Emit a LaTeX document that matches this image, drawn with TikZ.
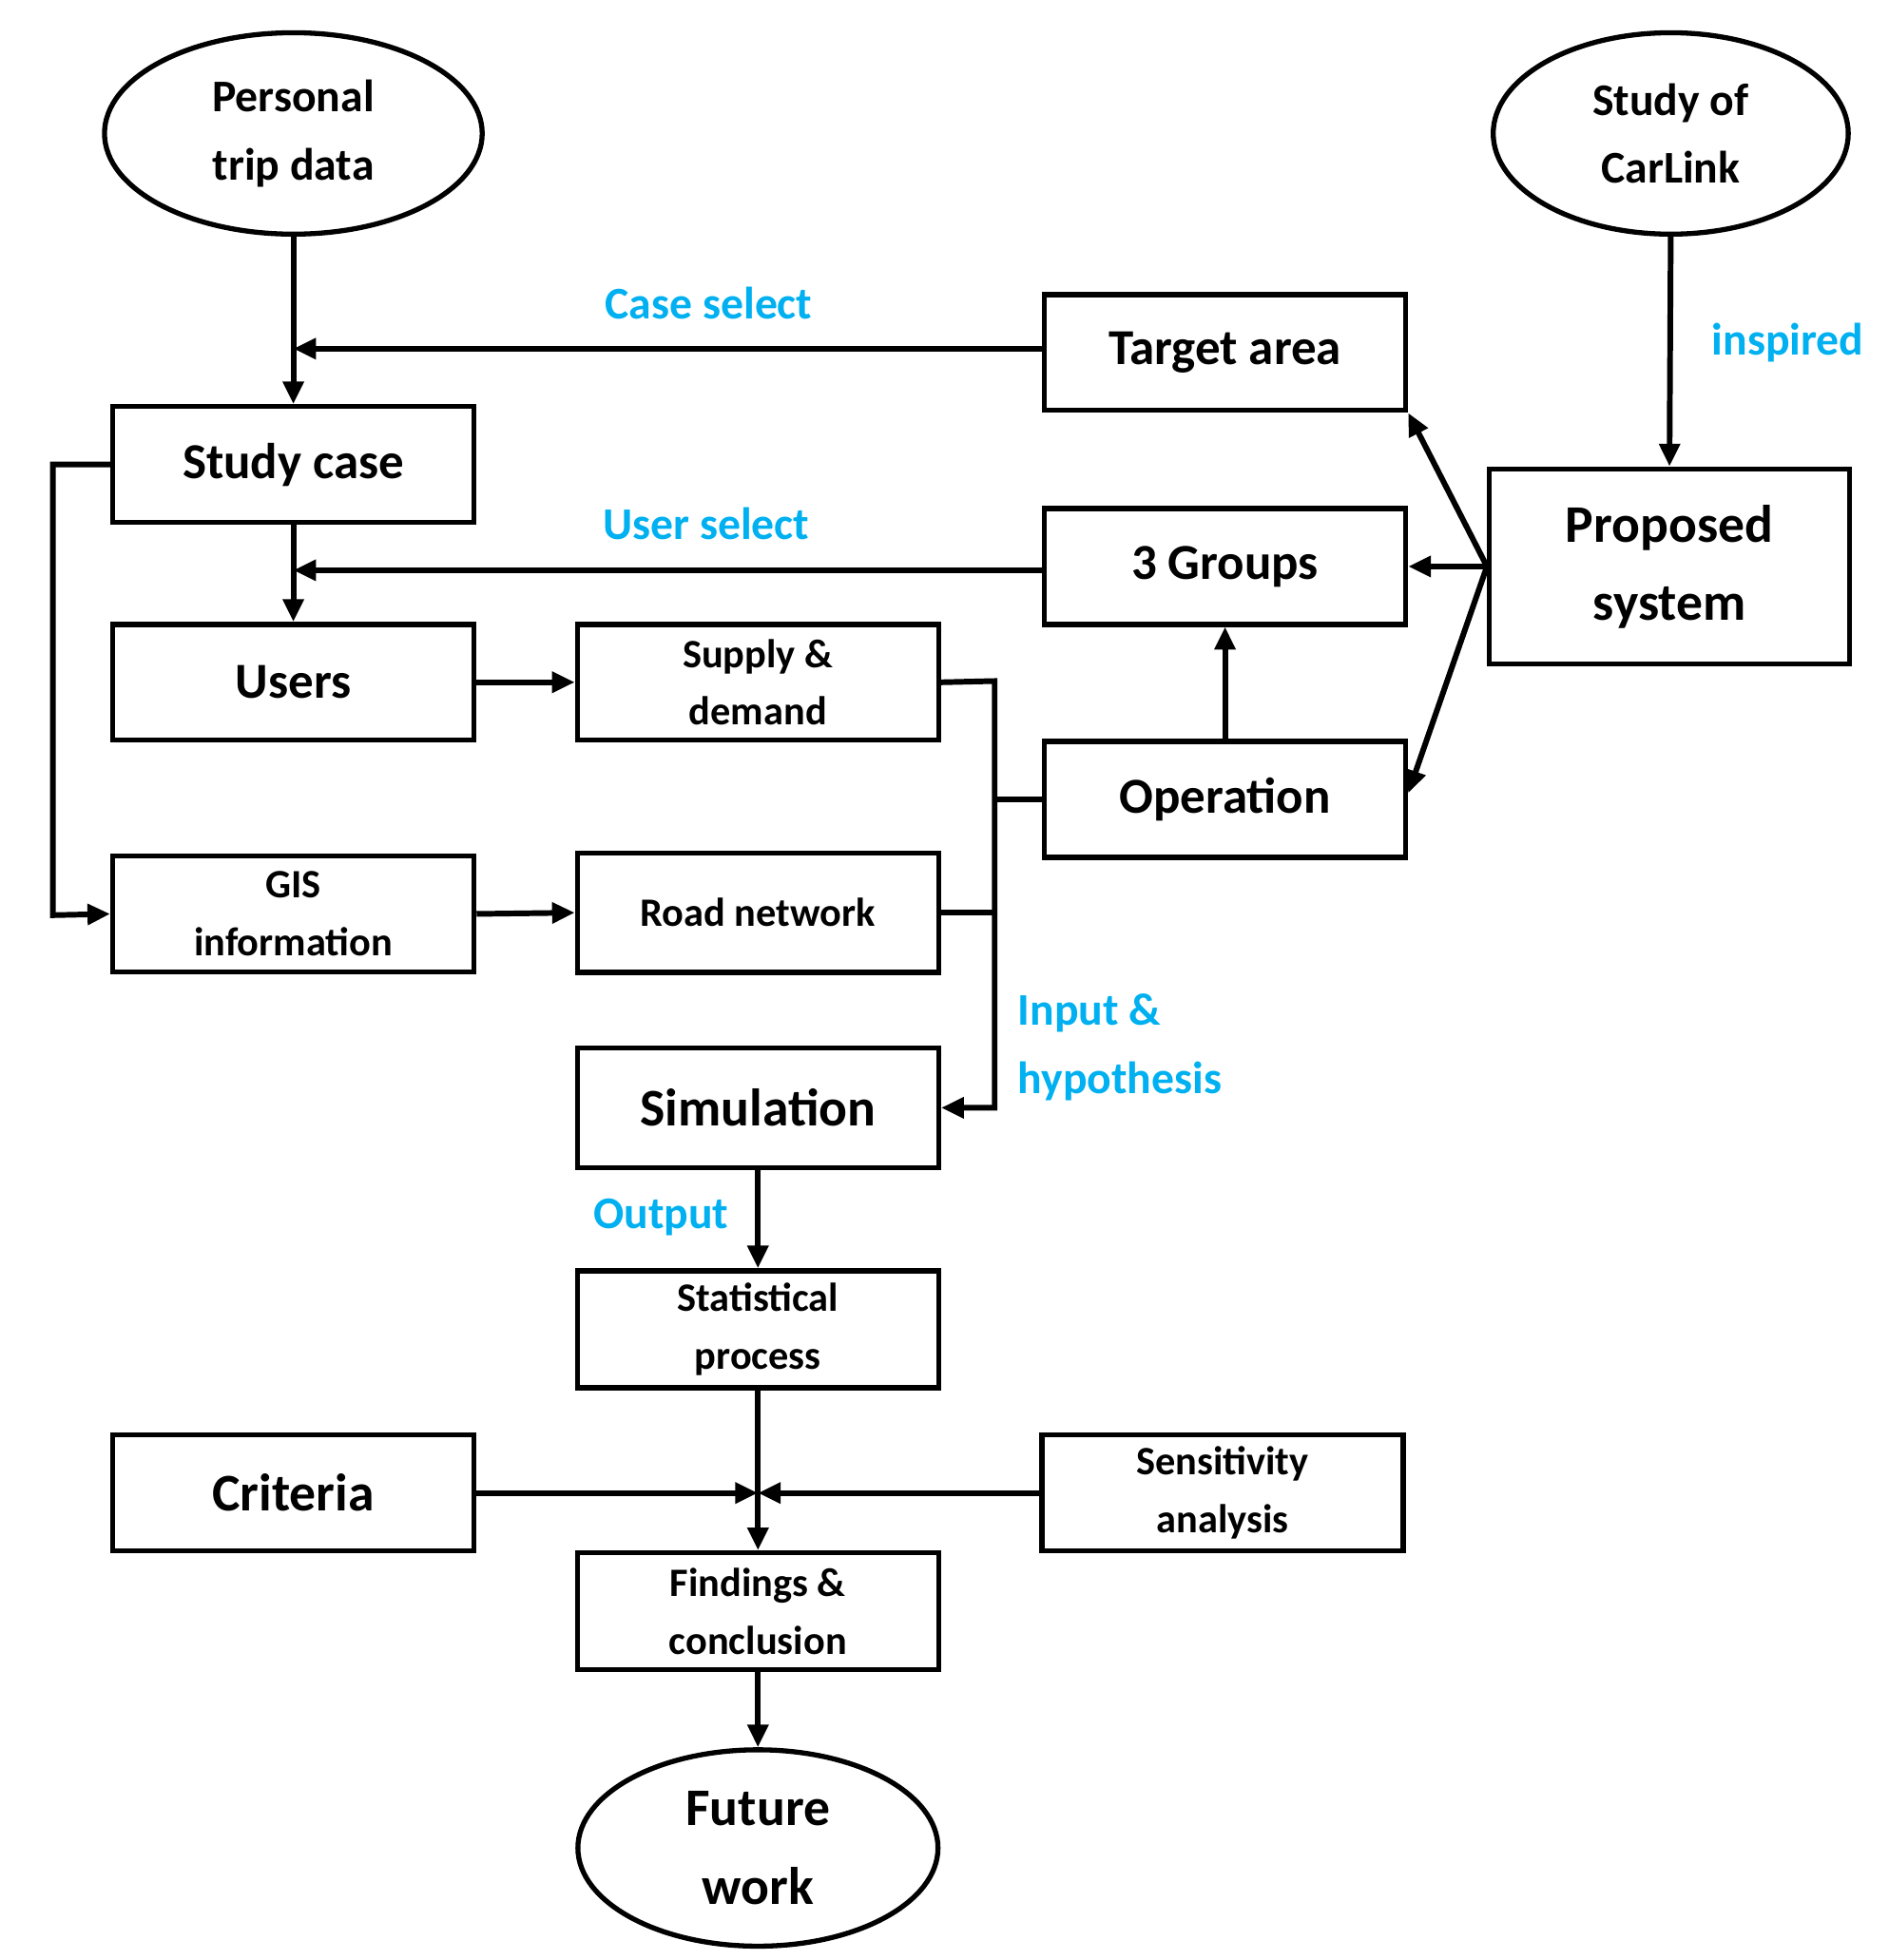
\documentclass[tikz,border=0pt]{standalone}
\usepackage{fontspec}
\setmainfont{Carlito}
\usetikzlibrary{arrows.meta,shapes.geometric}
\begin{document}
\begin{tikzpicture}[x=1pt,y=-1pt,
  box/.style={draw,line width=4pt,minimum width=287pt,minimum height=92pt,inner sep=0pt,align=center,font=\bfseries\fontsize{40}{50}\selectfont},
  sbox/.style={box,font=\bfseries\fontsize{32}{46}\selectfont},
  ell/.style={draw,ellipse,line width=4pt,minimum width=300pt,minimum height=160pt,inner sep=0pt,align=center,font=\bfseries\fontsize{36}{54}\selectfont},
  lab/.style={text=cyan!70!blue!80!white,font=\bfseries\fontsize{36}{54}\selectfont,align=left},
  con/.style={line width=4.5pt},
  arr/.style={con,-{Triangle[length=18pt,width=16pt]}}]
\definecolor{cy}{HTML}{00B0F0}
\tikzset{lab/.style={text=cy,font=\bfseries\fontsize{36}{54}\selectfont,align=left}}
\useasboundingbox (0,0) rectangle (1500,1557);
\node[ell] (ptd) at (233,106) {Personal\\trip data};
\node[ell,minimum width=282pt] (carl) at (1327,106) {Study of\\CarLink};
\node[box] (ta) at (973,280) {Target area};
\node[box] (sc) at (233,369) {Study case};
\node[box,minimum width=286pt,minimum height=155pt,font=\bfseries\fontsize{42}{62}\selectfont] (ps) at (1326,450) {Proposed\\system};
\node[box] (g3) at (973,450) {3 Groups};
\node[box] (us) at (233,542) {Users};
\node[sbox] (sd) at (602,542) {Supply \&\\demand};
\node[box] (op) at (973,635) {Operation};
\node[sbox] (gis) at (233,726) {GIS\\information};
\node[sbox,minimum height=95pt] (rn) at (602,725) {Road network};
\node[box,minimum height=95pt,font=\bfseries\fontsize{42}{50}\selectfont] (sim) at (602,880) {Simulation};
\node[sbox,minimum height=93pt] (st) at (602,1056) {Statistical\\process};
\node[box,font=\bfseries\fontsize{42}{50}\selectfont] (cr) at (233,1186) {Criteria};
\node[sbox] (sa) at (971,1186) {Sensitivity\\analysis};
\node[sbox,minimum height=93pt] (fc) at (602,1280) {Findings \&\\conclusion};
\node[ell,minimum width=286pt,minimum height=156pt,font=\bfseries\fontsize{42}{62}\selectfont] (fw) at (602,1468) {Future\\work};
\coordinate (j1) at (233,277);
\coordinate (j2) at (233,453);
\coordinate (j3) at (790,541);
\coordinate (j4) at (790,880);
\coordinate (j5) at (602,1186);
\draw[arr] (ptd.south) -- (sc.north);
\draw[arr] (ta.west |- j1) -- (j1);
\draw[arr] (carl.south) -- (ps.north);
\draw[arr] (ps.west) -- (ta.south east);
\draw[arr] (ps.west) -- (g3.east);
\draw[arr] (ps.west) -- (op.north east |- 0,630);
\draw[arr] (op.north) -- (g3.south);
\draw[arr] (sc.south) -- (us.north);
\draw[arr] (g3.west |- j2) -- (j2);
\draw[arr] (sc.west) -- (42,369) -- (42,727) -- (gis.west);
\draw[arr] (us.east) -- (sd.west);
\draw[arr] (gis.east) -- (rn.west);
\draw[arr] (sd.east) -- (j3) -- (j4) -- (sim.east);
\draw[con] (rn.east) -- (790,725);
\draw[con] (op.west) -- (790,635);
\draw[arr] (sim.south) -- (st.north);
\draw[arr] (st.south) -- (fc.north);
\draw[arr] (cr.east) -- (j5);
\draw[arr] (sa.west) -- (j5);
\draw[arr] (fc.south) -- (fw.north);
\node[lab] at (563,241) {Case select};
\node[lab] at (561,416) {User select};
\node[lab] at (1420,272) {inspired};
\node[lab,anchor=west] at (805,832) {Input \&\\hypothesis};
\node[lab] at (525,967) {Output};
\end{tikzpicture}
\end{document}
